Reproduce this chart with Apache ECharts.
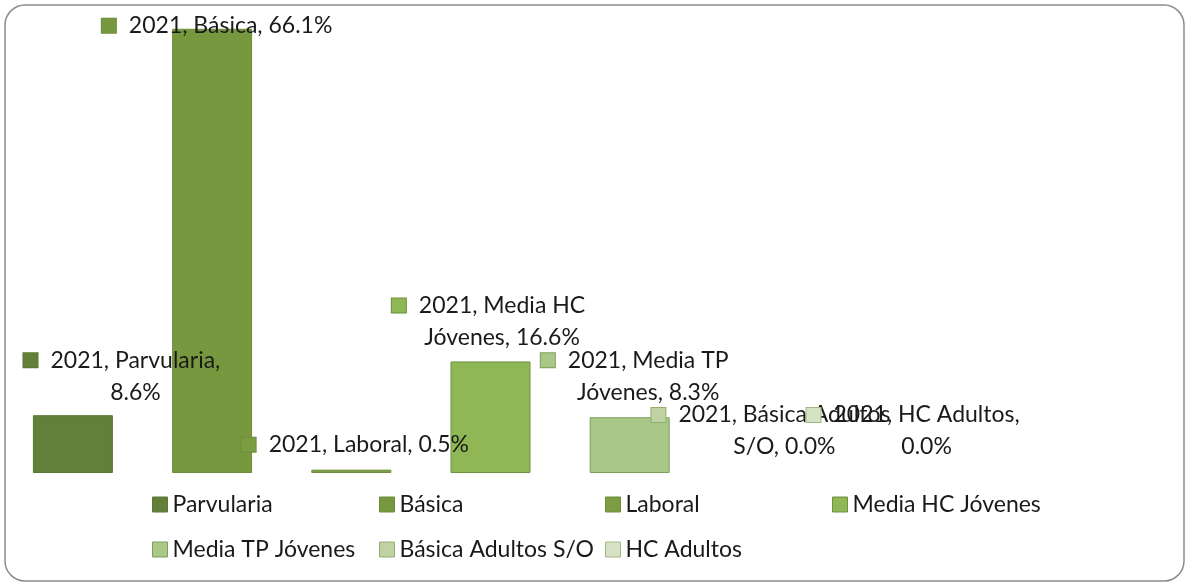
<!DOCTYPE html>
<html>
<head>
<meta charset="utf-8">
<script src="https://cdn.jsdelivr.net/npm/echarts@6/dist/echarts.min.js"></script>
<style>
html,body{margin:0;padding:0;background:#fff;}
#chart{width:1188px;height:585px;}
</style>
</head>
<body>
<div id="chart"></div>
<script>
// ---- data ----
const year = '2021';
const categories = ['Parvularia', 'Básica', 'Laboral', 'Media HC Jóvenes', 'Media TP Jóvenes', 'Básica Adultos S/O', 'HC Adultos'];
const values = [8.6, 66.1, 0.5, 16.6, 8.3, 0.0, 0.0];

// ---- style / layout ----
const colors = ['#62803a', '#77983f', '#7c9d42', '#8fb755', '#a9c787', '#bfd3a2', '#d5e2c4'];
const borders = ['#5a7634', '#6e8d3a', '#6f8f3a', '#6f9140', '#7f9e58', '#93ad70', '#a3b888'];
const wordsOnFirstLine = [2, 99, 99, 3, 3, 3, 3];
const labelOffsets = [[49, -2], [5, 18], [4, -4], [-2, -3], [5, -4], [2, -5], [5, -5]];
const legendPos = [[152, 493], [379, 493], [605, 493], [832, 493], [152, 538], [379, 538], [605, 538]];

const FONT = 'Lato';
const FS = 23;
const LH = 32;

function labelText(i) {
  const words = (year + ', ' + categories[i] + ', ' + values[i].toFixed(1) + '%').split(' ');
  const n = wordsOnFirstLine[i];
  const l1 = words.slice(0, n).join(' ');
  const l2 = words.slice(n).join(' ');
  if (!l2) return '{sq|}{sp|}{t|' + l1 + '}';
  return '{sq|}{sp|}{t|' + l1 + '}\n{sq0|}{sp|}{t|' + l2 + '}';
}

const series = categories.map((name, i) => ({
  name: name,
  type: 'bar',
  data: [values[i]],
  barWidth: 80,
  barGap: '74%',
  itemStyle: { color: colors[i], borderColor: borders[i], borderWidth: values[i] > 0 ? 1 : 0 },
  label: {
    show: true,
    position: 'top',
    offset: labelOffsets[i],
    formatter: () => labelText(i),
    align: 'center',
    lineHeight: LH,
    rich: {
      sq: { width: 14, height: 14, backgroundColor: colors[i], borderColor: borders[i], borderWidth: 1 },
      sq0: { width: 14, height: 14 },
      sp: { width: 13, height: 14 },
      t: { fontFamily: FONT, fontSize: FS, color: '#1a1a1a', lineHeight: LH }
    }
  }
}));

const legends = categories.map((name, i) => ({
  data: [name],
  left: legendPos[i][0],
  top: legendPos[i][1],
  padding: 0,
  icon: 'rect',
  itemWidth: 15,
  itemHeight: 15,
  itemGap: 5,
  selectedMode: false,
  itemStyle: { borderWidth: 1, borderColor: borders[i] },
  textStyle: { fontFamily: FONT, fontSize: FS, color: '#1a1a1a' }
}));

const chart = echarts.init(document.getElementById('chart'));
chart.setOption({
  animation: false,
  backgroundColor: '#ffffff',
  grid: { left: 4, right: 211, top: 16, bottom: 112 },
  xAxis: {
    type: 'category',
    data: [year],
    axisLine: { show: false },
    axisTick: { show: false },
    axisLabel: { show: false }
  },
  yAxis: {
    type: 'value',
    min: 0,
    max: 68,
    show: false,
    splitLine: { show: false }
  },
  legend: legends,
  series: series,
  graphic: [{
    type: 'rect',
    shape: { x: 5, y: 5, width: 1179, height: 576, r: 20 },
    style: { fill: 'none', stroke: '#8c8c8c', lineWidth: 1.5 },
    silent: true
  }]
});
</script>
</body>
</html>
